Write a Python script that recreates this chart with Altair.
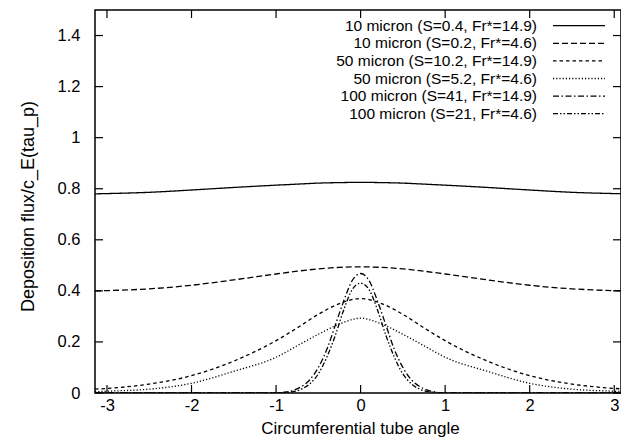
import altair as alt
import pandas as pd

# Sample positions (circumferential angle, radians)
x_wide = [-3.1416, -3.0, -2.5, -2.0, -1.5, -1.0, -0.75, -0.5, -0.25, 0.0,
          0.25, 0.5, 0.75, 1.0, 1.5, 2.0, 2.5, 3.0, 3.1416]
x_narrow = [-3.1416, -1.0, -0.9, -0.8, -0.7, -0.6, -0.5, -0.4, -0.3, -0.2, -0.1, 0.0,
            0.1, 0.2, 0.3, 0.4, 0.5, 0.6, 0.7, 0.8, 0.9, 1.0, 3.1416]

# Deposition flux profiles
y_10_s04 = [0.780, 0.781, 0.786, 0.795, 0.805, 0.814, 0.818, 0.822, 0.824, 0.825,
            0.824, 0.822, 0.818, 0.814, 0.805, 0.795, 0.786, 0.781, 0.780]
y_10_s02 = [0.400, 0.401, 0.408, 0.422, 0.443, 0.466, 0.477, 0.486, 0.492, 0.494,
            0.492, 0.486, 0.477, 0.466, 0.443, 0.422, 0.408, 0.401, 0.400]
y_50_s102 = [0.015, 0.018, 0.035, 0.068, 0.125, 0.205, 0.255, 0.308, 0.350, 0.370,
             0.350, 0.308, 0.255, 0.205, 0.125, 0.068, 0.035, 0.018, 0.015]
y_50_s52 = [0.005, 0.007, 0.015, 0.038, 0.085, 0.140, 0.185, 0.230, 0.270, 0.293,
            0.270, 0.230, 0.185, 0.140, 0.085, 0.038, 0.015, 0.007, 0.005]
y_100_s41 = [0.0, 0.0, 0.003, 0.010, 0.025, 0.052, 0.100, 0.170, 0.265, 0.360, 0.440, 0.468,
             0.440, 0.360, 0.265, 0.170, 0.100, 0.052, 0.025, 0.010, 0.003, 0.0, 0.0]
y_100_s21 = [0.0, 0.0, 0.002, 0.005, 0.015, 0.036, 0.075, 0.140, 0.225, 0.325, 0.405, 0.430,
             0.405, 0.325, 0.225, 0.140, 0.075, 0.036, 0.015, 0.005, 0.002, 0.0, 0.0]

series = [
    "10 micron (S=0.4, Fr*=14.9)",
    "10 micron (S=0.2, Fr*=4.6)",
    "50 micron (S=10.2, Fr*=14.9)",
    "50 micron (S=5.2, Fr*=4.6)",
    "100 micron (S=41, Fr*=14.9)",
    "100 micron (S=21, Fr*=4.6)",
]
dashes = [[1, 0], [6, 3], [3.5, 3], [1.2, 2], [6, 2.5, 1.5, 2.5], [5, 2, 1.5, 2, 1.5, 2]]

x_ticks = [-3, -2, -1, 0, 1, 2, 3]
y_ticks = [0, 0.2, 0.4, 0.6, 0.8, 1.0, 1.2, 1.4]

W, H = 526, 383
X_DOMAIN = [-3.1416, 3.08]
Y_DOMAIN = [0, 1.5]
FONT = "Liberation Sans"
TICK_LEN = 8

profiles = [
    (series[0], x_wide, y_10_s04),
    (series[1], x_wide, y_10_s02),
    (series[2], x_wide, y_50_s102),
    (series[3], x_wide, y_50_s52),
    (series[4], x_narrow, y_100_s41),
    (series[5], x_narrow, y_100_s21),
]
rows = []
for name, xs, ys in profiles:
    for xv, yv in zip(xs, ys):
        rows.append({"series": name, "angle": xv, "flux": yv})
df = pd.DataFrame(rows)

xscale = alt.Scale(domain=X_DOMAIN, nice=False, zero=False)
yscale = alt.Scale(domain=Y_DOMAIN, nice=False, zero=False)
dash_scale = alt.Scale(domain=series, range=dashes)

# Plain ASCII hyphen for negative tick labels
x_axis = alt.Axis(values=x_ticks, ticks=False, tickSize=0, domain=False, grid=False,
                  labelFontSize=16.5, labelFont=FONT, labelColor="black",
                  labelPadding=4, labelFlush=False, labelExpr="'' + datum.value",
                  title="Circumferential tube angle", titleFont=FONT,
                  titleFontSize=17, titleFontWeight="normal", titleColor="black",
                  titleX=265, titleY=35, titleAlign="center", titleBaseline="middle")
y_axis = alt.Axis(values=y_ticks, ticks=False, tickSize=0, domain=False, grid=False,
                  labelFontSize=16.5, labelFont=FONT, labelColor="black",
                  labelPadding=15, labelFlush=False, format="~g",
                  title="Deposition flux/c_E(tau_p)", titleFont=FONT,
                  titleFontSize=18, titleFontWeight="normal", titleColor="black",
                  titleAngle=270, titleX=-67, titleY=196, titleAlign="center",
                  titleBaseline="middle")

lines = alt.Chart(df).mark_line(
    interpolate="monotone", color="black", strokeWidth=1.3, clip=True
).encode(
    x=alt.X("angle:Q", scale=xscale, axis=x_axis),
    y=alt.Y("flux:Q", scale=yscale, axis=y_axis),
    strokeDash=alt.StrokeDash("series:N", scale=dash_scale, legend=None),
    detail="series:N",
    order=alt.Order("angle:Q"),
)

# Inward tick marks on all four sides
xt = pd.DataFrame({"angle": x_ticks})
yt = pd.DataFrame({"t": y_ticks})
tick_style = dict(color="black", strokeWidth=1.2)
bottom_ticks = alt.Chart(xt).mark_rule(**tick_style).encode(
    x=alt.X("angle:Q", scale=xscale, axis=x_axis),
    y=alt.value(H), y2=alt.value(H - TICK_LEN))
top_ticks = alt.Chart(xt).mark_rule(**tick_style).encode(
    x=alt.X("angle:Q", scale=xscale, axis=x_axis),
    y=alt.value(0), y2=alt.value(TICK_LEN))
left_ticks = alt.Chart(yt).mark_rule(**tick_style).encode(
    y=alt.Y("t:Q", scale=yscale, axis=None),
    x=alt.value(0), x2=alt.value(TICK_LEN))
right_ticks = alt.Chart(yt).mark_rule(**tick_style).encode(
    y=alt.Y("t:Q", scale=yscale, axis=None),
    x=alt.value(W), x2=alt.value(W - TICK_LEN))

# Key: labels right-aligned with the line sample to their right
key = pd.DataFrame({"series": series, "row": list(range(len(series)))})
key_base = alt.Chart(key).transform_calculate(ky="15.7 + datum.row * 17.6")
key_text = key_base.mark_text(
    align="right", baseline="middle", font=FONT, fontSize=15.5, color="black"
).encode(
    x=alt.value(442),
    y=alt.Y("ky:Q", scale=None, axis=None),
    text="series:N",
)
key_lines = key_base.mark_rule(color="black", strokeWidth=1.3).encode(
    x=alt.value(458), x2=alt.value(510),
    y=alt.Y("ky:Q", scale=None, axis=None),
    strokeDash=alt.StrokeDash("series:N", scale=dash_scale, legend=None),
)

chart = alt.layer(
    lines, bottom_ticks, top_ticks, left_ticks, right_ticks, key_text, key_lines
).resolve_scale(
    y="independent"
).properties(
    width=W, height=H,
    autosize=alt.AutoSizeParams(type="none"),
    padding={"left": 95, "top": 10, "right": 0, "bottom": 47},
    background="white",
).configure_view(
    stroke="black", strokeWidth=1.5
)

chart.save("out.html", embed_options={"renderer": "svg", "actions": False})
